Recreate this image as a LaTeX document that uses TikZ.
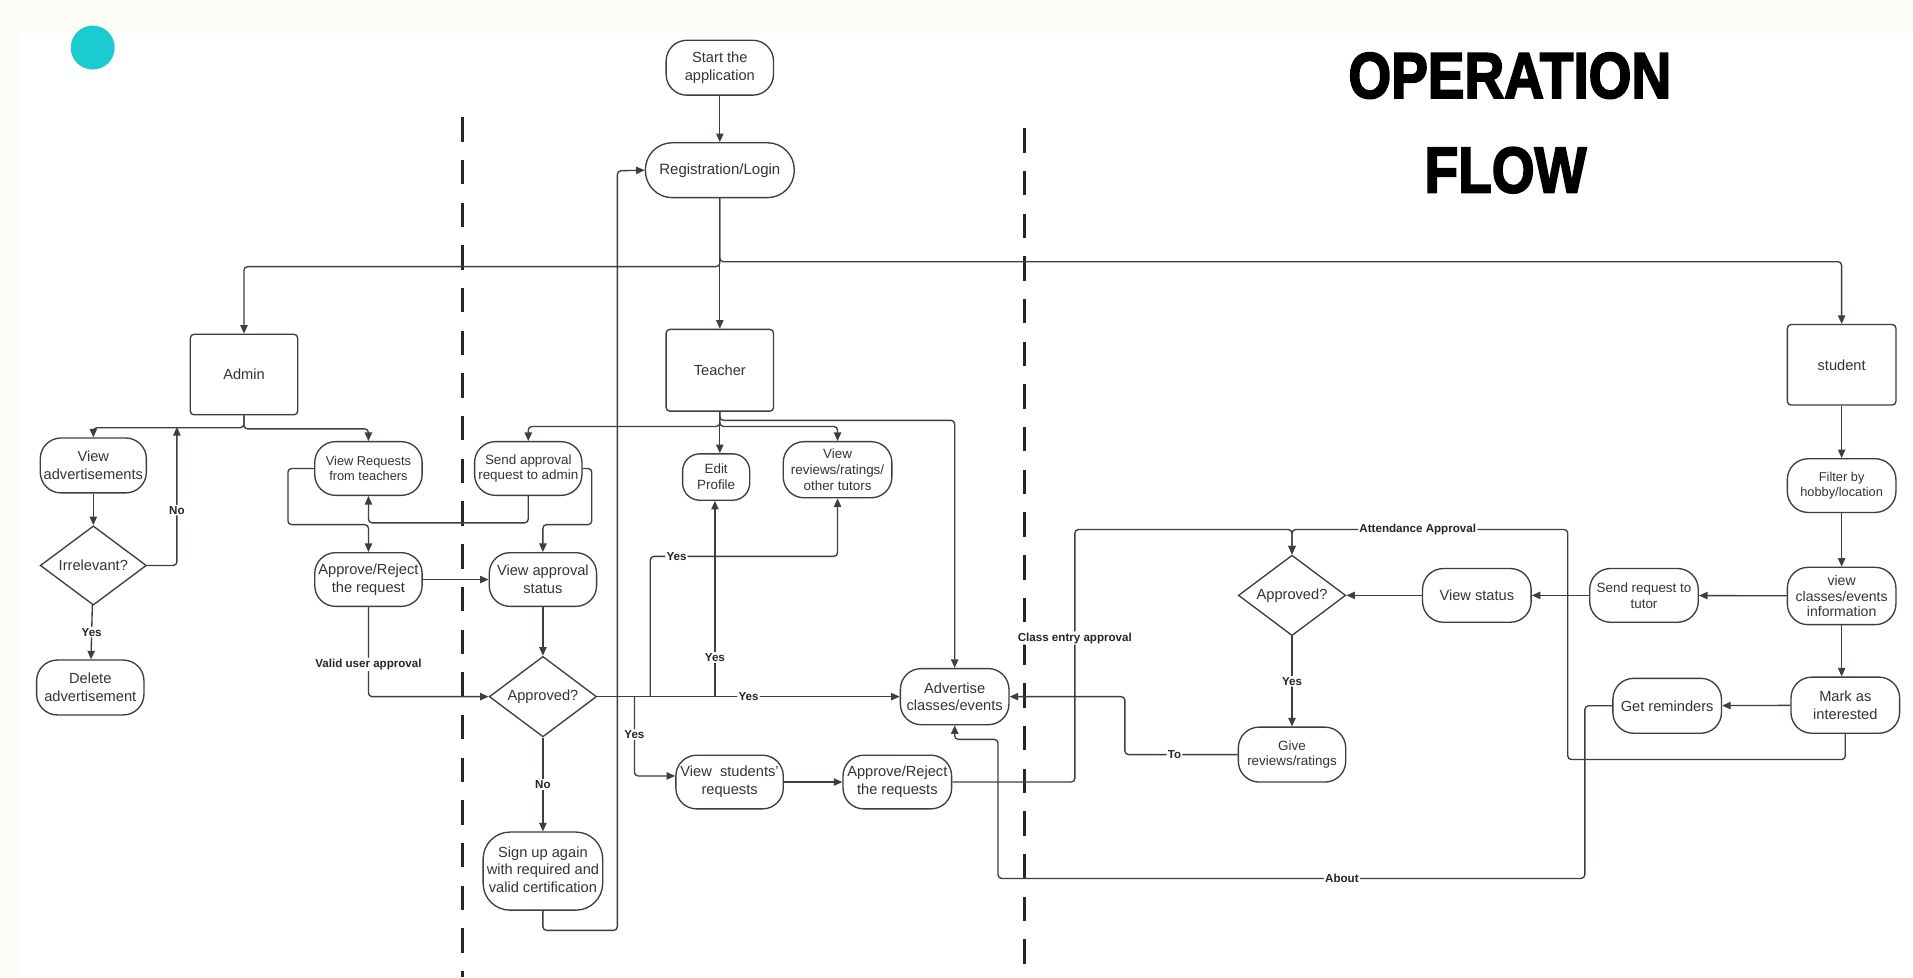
\documentclass[tikz,border=0pt]{standalone}
\usepackage{fontspec}
\usepackage{graphicx}
\setmainfont{Liberation Sans}
\newfontfamily\titlefont{Liberation Sans}[BoldFeatures={FakeBold=3}]
\usetikzlibrary{arrows.meta,shapes.geometric}
\definecolor{lc}{RGB}{58,62,70}
\definecolor{tc}{RGB}{50,52,58}
\definecolor{bgc}{RGB}{253,252,246}
\definecolor{teal}{RGB}{26,203,208}
\tikzset{
  base/.style={draw=lc, line width=1.1pt, text=tc, align=center, inner sep=0pt, font=\fontsize{12}{14.5}\selectfont},
  proc/.style={base, rounded corners=17pt, minimum width=88pt, minimum height=45pt},
  actor/.style={base, rounded corners=3pt, minimum width=88pt, minimum height=66pt},
  dec/.style={base, diamond, shape aspect=1.33, minimum width=88pt, minimum height=66pt},
  arr/.style={draw=lc, line width=1.1pt, -{Triangle[length=7pt,width=6pt]}, rounded corners=3pt},
  lbl/.style={fill=white, text=black!85, font=\bfseries\fontsize{9.5}{11}\selectfont, inner sep=1pt},
  lane/.style={draw=black!85, line width=2.2pt, dash pattern=on 20pt off 15pt},
  small/.style={font=\fontsize{11}{13}\selectfont},
  smaller/.style={font=\fontsize{10.5}{12.5}\selectfont}
}
\begin{document}
\begin{tikzpicture}[x=1pt,y=-1pt]
\useasboundingbox (0,0) rectangle (1568,801);
\fill[bgc] (0,0) rectangle (1568,801);
\fill[white] (17,27) rectangle (1568,801);
\fill[teal] (76,39) circle (18);
% title
\node[font=\titlefont\bfseries\fontsize{53}{60}\selectfont, text=black, inner sep=0pt] (t1) at (1237.5,62) {\scalebox{0.85}[1]{OPERATION}};
\node[font=\titlefont\bfseries\fontsize{53}{60}\selectfont, text=black, inner sep=0pt] (t2) at (1234,139.5) {\scalebox{0.85}[1]{FLOW}};
% swimlane separators
\draw[lane] (379,96) -- (379,801);
\draw[lane] (840,105) -- (840,801);
% nodes
\node[proc] (start) at (590,55.5) {Start the\\application};
\node[proc, minimum width=122pt, rounded corners=22pt, font=\fontsize{12.3}{14.5}\selectfont] (reg) at (590,139.5) {Registration/Login};
\node[actor] (admin) at (200,307) {Admin};
\node[actor, minimum height=67pt] (teacher) at (590,303.5) {Teacher};
\node[actor, minimum width=89pt] (student) at (1509.5,299) {student};
\node[proc, minimum width=87pt] (viewads) at (76.5,381.5) {View\\advertisements};
\node[dec, minimum width=87pt, minimum height=65pt] (irr) at (76.5,463.5) {Irrelevant?};
\node[proc] (del) at (74,563.5) {Delete\\advertisement};
\node[proc, smaller, minimum height=44pt] (viewreq) at (302,384) {View Requests\\from teachers};
\node[proc, small, minimum height=44pt] (sendap) at (433,384) {Send approval\\request to admin};
\node[proc, minimum height=44pt] (apprej) at (302,475) {Approve/Reject\\the request};
\node[proc, minimum height=44pt] (viewstat) at (445,475) {View approval\\status};
\node[dec] (appr1) at (445,571) {Approved?};
\node[proc, minimum width=98pt, minimum height=64pt, rounded corners=22pt] (signup) at (445,714) {Sign up again\\with required and\\valid certification\vphantom{p}};
\node[proc, small, minimum width=55pt, minimum height=38pt, rounded corners=14pt] (edit) at (587,391) {Edit\\Profile};
\node[proc, small, minimum width=89pt, minimum height=46pt] (vrev) at (686.5,385) {View\\reviews/ratings/\\other tutors};
\node[proc, minimum width=89pt, minimum height=46pt] (adv) at (782.5,571) {Advertise\\classes/events};
\node[proc, minimum height=44pt] (vsreq) at (598,641) {View\ \ students'\\requests};
\node[proc, minimum width=89pt, minimum height=44pt] (apprs) at (735.5,641) {Approve/Reject\\the requests};
\node[proc, smaller, minimum width=89pt, minimum height=44pt] (filter) at (1509.5,398) {Filter by\\hobby/location};
\node[proc, font=\fontsize{11.5}{13}\selectfont, minimum width=89pt, minimum height=47pt] (vcls) at (1509.5,488.5) {view\\classes/events\\information};
\node[proc, small, minimum width=89pt, minimum height=44pt] (sendreq) at (1347.5,488) {Send request to\\tutor};
\node[proc, minimum width=89pt, minimum height=44pt] (vstat) at (1210.5,488) {View status};
\node[dec] (appr2) at (1059,488) {Approved?};
\node[proc, small] (give) at (1059,618.5) {Give\\reviews/ratings};
\node[proc, minimum width=89pt, minimum height=46pt] (mark) at (1512.5,578) {Mark as\\interested};
\node[proc, minimum width=89pt] (remind) at (1366.5,578.5) {Get reminders};
% helper coordinates
\coordinate (nobr) at (145,350);
\coordinate (b1) at (533,571);
\coordinate (b2) at (586,571);
\coordinate (b3) at (520,571);
% connectors: top
\draw[arr] (start) -- (reg);
\draw[arr] (reg.south) -- (teacher.north);
\draw[arr] (reg.south) -- ++(0,52) -| (student.north);
\draw[arr] (reg.south) -- ++(0,56) -| (admin.north);
% admin lane
\draw[arr] (admin.south) -- ++(0,10) -| (viewads.north);
\draw[arr] (admin.south) -- ++(0,11) -| (viewreq.north);
\draw[arr] (viewads) -- (irr);
\draw[arr] (irr.east) -| node[lbl,pos=0.7]{No} (nobr);
\draw[arr] (irr) -- node[lbl]{Yes} (del);
\draw[arr] (viewreq.west) -| (236,430) -| (apprej.north);
\draw[arr] (sendap.south) -- ++(0,22) -| (viewreq.south);
\draw[arr] (sendap.east) -| (485,430) -| (viewstat.north);
\draw[arr] (apprej) -- (viewstat);
\draw[arr] (apprej.south) |- node[lbl,pos=0.32]{Valid user approval} (appr1.west);
\draw[arr] (viewstat) -- (appr1);
\draw[arr] (appr1) -- node[lbl]{No} (signup);
\draw[arr] (signup.south) -- ++(0,16) -| (506,140) -- (reg.west);
% teacher lane
\draw[arr] (teacher.south) -- (teacher.south |- edit.north);
\draw[arr] (teacher.south) -- ++(0,12) -| (sendap.north);
\draw[arr] (teacher.south) -- ++(0,12) -| (vrev.north);
\draw[arr] (teacher.south) -- ++(0,7) -| (adv.north);
\draw[arr] (appr1.east) -- node[lbl]{Yes} (adv.west);
\draw[arr] (b1) -- (533,456) -| node[lbl,pos=0.07]{Yes} (vrev.south);
\draw[arr] (b2) -- node[lbl,pos=0.2]{Yes} (b2 |- edit.south);
\draw[arr] (b3) |- node[lbl,pos=0.24]{Yes} ([yshift=5pt]vsreq.west);
\draw[arr] (vsreq) -- (apprs);
\draw[arr] (apprs.east) -| node[lbl,pos=0.785]{Class entry approval} (881,434) -| (appr2.north);
% student lane
\draw[arr] (student) -- (filter);
\draw[arr] (filter) -- (vcls);
\draw[arr] (vcls) -- (sendreq);
\draw[arr] (sendreq) -- (vstat);
\draw[arr] (vstat) -- (appr2);
\draw[arr] (vcls.south) -- (vcls.south |- mark.north);
\draw[arr] (mark) -- (remind);
\draw[arr] (appr2) -- node[lbl]{Yes} (give);
\draw[arr] (mark.south) -- ++(0,21) -| (1285,434) -| node[lbl,pos=0.272]{Attendance Approval} (appr2.north);
\draw[arr] (give.west) -| node[lbl,pos=0.28]{To} (922,571) -- (adv.east);
\draw[arr] (remind.west) -| (1299,720) -| node[lbl,pos=0.207]{About} (818,606) -| (adv.south);
\end{tikzpicture}
\end{document}
